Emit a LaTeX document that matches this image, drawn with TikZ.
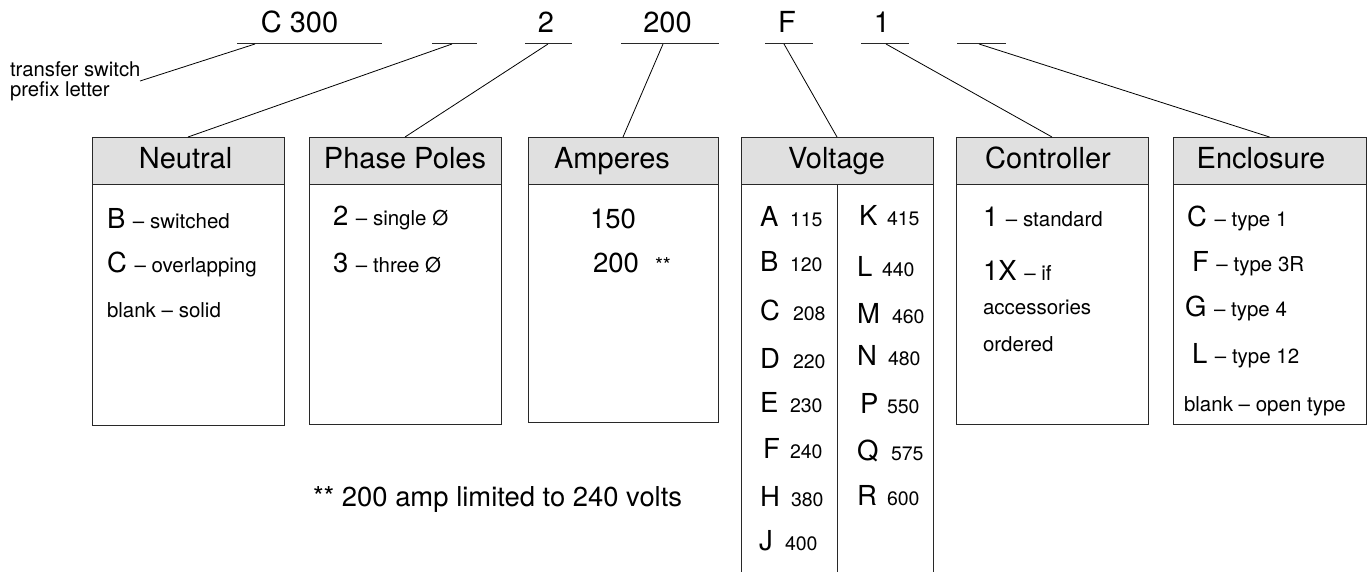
\documentclass[tikz,border=0pt]{standalone}
\usepackage{fontspec}
\setmainfont{TeX Gyre Heros}
\newcommand\hdf{\fontsize{29}{32}\selectfont}
\newcommand\bgt{\fontsize{27.5}{30}\selectfont}
\newcommand\smt{\fontsize{20.5}{24}\selectfont}
\newcommand\vnt{\fontsize{19.5}{22}\selectfont}
\newcommand\ftn{\fontsize{27.4}{30}\selectfont}
\newcommand\tsf{\fontsize{20.3}{17.5}\selectfont}
\definecolor{hdrgray}{RGB}{224,224,224}
\definecolor{linegray}{RGB}{40,40,40}
\tikzset{
  every node/.style={inner sep=0pt, outer sep=0pt},
  hdr/.style={draw=linegray, fill=hdrgray, line width=0.9pt, minimum width=192pt, minimum height=47pt},
  body/.style={draw=linegray, line width=0.9pt, minimum width=192pt},
  conn/.style={line width=0.8pt, draw=black},
  uline/.style={line width=0.8pt, draw=linegray},
  txt/.style={anchor=base west},
  lbl/.style={anchor=base}
}
\begin{document}
\begin{tikzpicture}[x=1pt,y=-1pt]
\useasboundingbox (0,0) rectangle (1372,571);
% top code labels
\node[lbl,font=\hdf] (tC) at (299.5,32) {C 300};
\node[lbl,font=\hdf] (t2) at (546,32) {2};
\node[lbl,font=\hdf] (t200) at (667.5,32) {200};
\node[lbl,font=\hdf] (tF) at (787,32) {F};
\node[lbl,font=\hdf] (t1) at (882,32) {1};
% underlines
\draw[uline] (237,43) -- (382,43);
\draw[uline] (432,43) -- (477,43);
\draw[uline] (525,43) -- (572,43);
\draw[uline] (621,43) -- (719,43);
\draw[uline] (765,43) -- (813,43);
\draw[uline] (861,43) -- (909,43);
\draw[uline] (957,43) -- (1006,43);
% connector start points
\coordinate (cT) at (255,44);
\coordinate (cT2) at (140,81);
\coordinate (cN) at (452,44);
\coordinate (cP) at (548,44);
\coordinate (cA) at (663,44);
\coordinate (cV) at (784,44);
\coordinate (cC) at (886,44);
\coordinate (cE) at (979,44);
% transfer switch label
\node[txt,font=\tsf] (ts1) at (10,76.5) {transfer switch};
\node[txt,font=\tsf] (ts2) at (10,96) {prefix letter};
% headers
\node[hdr] (hN) at (188,160.5) {};
\node[hdr] (hP) at (405,160.5) {};
\node[hdr, minimum width=190pt] (hA) at (623,160.5) {};
\node[hdr] (hV) at (837,160.5) {};
\node[hdr] (hC) at (1052,160.5) {};
\node[hdr, minimum width=193pt] (hE) at (1269.5,160.5) {};
\node[lbl,font=\hdf] (lN) at (185.5,168) {Neutral};
\node[lbl,font=\hdf] (lP) at (405,168) {Phase Poles};
\node[lbl,font=\hdf] (lA) at (612,168) {Amperes};
\node[lbl,font=\hdf] (lV) at (836.5,168) {Voltage};
\node[lbl,font=\hdf] (lC) at (1048,168) {Controller};
\node[lbl,font=\hdf] (lE) at (1261,168) {Enclosure};
% bodies
\node[body, minimum height=241pt] (bN) at (188,304.5) {};
\node[body, minimum height=240pt] (bP) at (405,304) {};
\node[body, minimum width=190pt, minimum height=238pt] (bA) at (623,303) {};
\node[body, minimum height=240pt] (bC) at (1052,304) {};
\node[body, minimum width=193pt, minimum height=240pt] (bE) at (1269.5,304) {};
\draw[line width=0.9pt, draw=linegray] (hV.south west) -- ++(0,390);
\draw[line width=0.9pt, draw=linegray] (hV.south east) -- ++(0,390);
\draw[line width=0.9pt, draw=linegray] (hV.south) -- ++(0,390);
% connectors
\draw[conn] (cT) -- (cT2);
\draw[conn] (cN) -- (hN.north);
\draw[conn] (cP) -- (hP.north);
\draw[conn] (cA) -- (hA.north);
\draw[conn] (cV) -- (hV.north);
\draw[conn] (cC) -- (hC.north);
\draw[conn] (cE) -- (hE.north);
% Neutral content
\node[txt] (n1) at (107,228) {\bgt B \smt– switched};
\node[txt] (n2) at (107,272) {\bgt C \smt– overlapping};
\node[txt,font=\smt] (n3) at (107,317) {blank – solid};
% Phase Poles content
\node[txt] (p1) at (333,225) {\bgt 2 \smt– single Ø};
\node[txt] (p2) at (333,272) {\bgt 3 \smt– three Ø};
% Amperes content
\node[txt,font=\bgt] (a1) at (590,228) {150};
\node[txt,font=\bgt] (a2) at (593,272.5) {200};
\node[txt,font=\smt] (a3) at (655,272.5) {**};
% Voltage content
\foreach \lx/\nx/\yy/\L/\N in {760/790/226.7/A/115, 760/790/271.7/B/120, 760/793/320/C/208, 760/793/368/D/220, 760/790/412.7/E/230, 763/790/458/F/240, 760/791/506/H/380, 759/785/550/J/400, 859/887/225/K/415, 857/882/276/L/440, 857/892/323/M/460, 857/888/365/N/480, 860/887/413/P/550, 857/891/460/Q/575, 857/887/505/R/600}{
  \node[txt,font=\bgt] (vl\L) at (\lx,\yy) {\L};
  \node[txt,font=\vnt] (vn\L) at (\nx,\yy) {\N};
}
% Controller content
\node[txt] (k1) at (983,226) {\bgt 1 \smt– standard};
\node[txt] (k2) at (983,280) {\bgt 1X \smt– if};
\node[txt,font=\smt] (k3) at (983,314) {accessories};
\node[txt,font=\smt] (k4) at (983,351) {ordered};
% Enclosure content
\node[txt] (e1) at (1187,226.7) {\bgt C \smt– type 1};
\node[txt] (e2) at (1192,271.7) {\bgt F \smt– type 3R};
\node[txt] (e3) at (1185,316.7) {\bgt G \smt– type 4};
\node[txt] (e4) at (1192,363) {\bgt L \smt– type 12};
\node[txt,font=\smt] (e5) at (1184,411.7) {blank – open type};
% footnote
\node[txt,font=\ftn] (fn) at (313,506.7) {** 200 amp limited to 240 volts};
\end{tikzpicture}
\end{document}
